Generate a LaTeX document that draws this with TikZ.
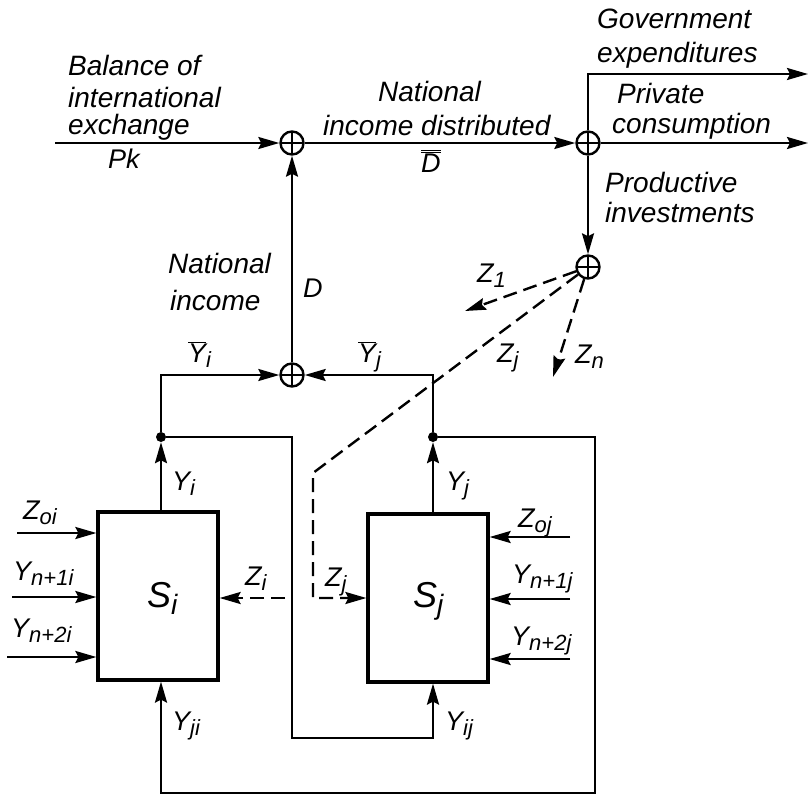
\documentclass[tikz,border=0pt]{standalone}
\usepackage{fontspec}
\setmainfont{Liberation Sans}
\usetikzlibrary{arrows.meta,calc}
\newcommand\lsub[1]{\raisebox{-0.4ex}{\fontsize{22}{22}\selectfont #1}}
\newcommand\bsub[1]{\raisebox{-0.4ex}{\fontsize{28}{28}\selectfont #1}}
\newcommand\ovl[1]{\ensuremath{\overline{\mbox{#1}}}}
\newcommand\dovl[1]{\ensuremath{\overline{\overline{\mbox{#1}}}}}
\tikzset{
  ln/.style={line width=2.4pt},
  arr/.style={ln,-{Stealth[length=21pt,width=12pt,inset=3pt]}},
  darr/.style={arr,dash pattern=on 14pt off 7pt},
  sumnode/.style={circle,draw,line width=2.4pt,minimum size=23pt,inner sep=0pt,
    path picture={\draw[line width=2pt] (path picture bounding box.north) -- (path picture bounding box.south)
      (path picture bounding box.west) -- (path picture bounding box.east);}},
  blk/.style={draw,line width=3.2pt,minimum width=120pt,minimum height=168pt,inner sep=0pt},
  dotnode/.style={circle,fill,inner sep=0pt,minimum size=10pt},
  txt/.style={anchor=base west,inner sep=0pt,font=\fontsize{28}{30}\selectfont\itshape},
  var/.style={anchor=base west,inner sep=0pt,font=\fontsize{27}{29}\selectfont\itshape},
  big/.style={anchor=base west,inner sep=0pt,font=\fontsize{36}{38}\selectfont\itshape},
}
\begin{document}
\begin{tikzpicture}[x=1pt,y=-1pt]
\useasboundingbox (0,0) rectangle (810,795);
% summing nodes
\node[sumnode] (c1) at (292,143) {};
\node[sumnode] (c2) at (588,143) {};
\node[sumnode] (c3) at (588,267) {};
\node[sumnode] (c4) at (292,375) {};
% blocks
\node[blk] (Si) at (158,596) {};
\node[blk] (Sj) at (428,598) {};
\node[dotnode] (di) at (161,437) {};
\node[dotnode] (dj) at (433,437) {};
% coordinates
\coordinate (pk) at (55,143);
\coordinate (ge) at (808,74);
\coordinate (pc) at (808,143);
\coordinate (z1) at (465,311);
\coordinate (zn) at (553,377);
\coordinate (zjb) at (313,473);
\coordinate (zjc) at (313,598);
\coordinate (zis) at (285,598);
\coordinate (l1) at (292,437);
\coordinate (l2) at (292,738);
\coordinate (r1) at (595,437);
\coordinate (r2) at (595,793);
\coordinate (zoi) at (17,533);
\coordinate (yn1i) at (12,597);
\coordinate (yn2i) at (7,657);
\coordinate (zoj) at (570,537);
\coordinate (yn1j) at (570,599);
\coordinate (yn2j) at (570,659);
% top connectors
\draw[arr] (pk) -- (c1);
\draw[arr] (c1) -- (c2);
\draw[arr] (c2.north) |- (ge);
\draw[arr] (c2) -- (pc);
\draw[arr] (c2) -- (c3);
\draw[arr] (c4) -- (c1);
\draw[darr] (c3) -- (z1);
\draw[darr] (c3) -- (zn);
\draw[darr] (c3) -- (zjb) -- (zjc) -- (Sj.west |- zjc);
% outputs
\draw[arr] (di |- Si.north) -- (di);
\draw[arr] (dj |- Sj.north) -- (dj);
\draw[arr] (di) |- (c4);
\draw[arr] (dj) |- (c4);
\draw[arr] (di) -- (l1) -- (l2) -- (dj |- l2) -- (dj |- Sj.south);
\draw[arr] (dj) -- (r1) -- (r2) -- (di |- r2) -- (di |- Si.south);
% inputs
\draw[arr] (zoi) -- (Si.west |- zoi);
\draw[arr] (yn1i) -- (Si.west |- yn1i);
\draw[arr] (yn2i) -- (Si.west |- yn2i);
\draw[arr] (zoj) -- (Sj.east |- zoj);
\draw[arr] (yn1j) -- (Sj.east |- yn1j);
\draw[arr] (yn2j) -- (Sj.east |- yn2j);
\draw[darr] (zis) -- (Si.east |- zis);
% text labels
\node[txt] (t1) at (68,75) {Balance of};
\node[txt] (t2) at (68,107) {international};
\node[txt] (t3) at (68,134) {exchange};
\node[var] (tpk) at (108,168) {Pk};
\node[txt] (t4) at (378,101) {National};
\node[txt] (t5) at (323,135) {income distributed};
\node[var] (tdd) at (421,172) {\dovl{D}};
\node[txt] (t6) at (597,28) {Government};
\node[txt] (t7) at (597,62) {expenditures};
\node[txt] (t8) at (617,103) {Private};
\node[txt] (t9) at (612,133) {consumption};
\node[txt] (t10) at (605,192) {Productive};
\node[txt] (t11) at (605,222) {investments};
\node[txt] (t12) at (168,273) {National};
\node[txt] (t13) at (170,310) {income};
\node[var] (tD) at (303,297) {D};
\node[var] (tz1) at (477,282) {Z\lsub{1}};
\node[var] (tzj) at (497,362) {Z\lsub{j}};
\node[var] (tzn) at (575,363) {Z\lsub{n}};
\node[var] (tyi) at (188,362) {\ovl{Y}\lsub{i}};
\node[var] (tyj) at (358,362) {\ovl{Y}\lsub{j}};
\node[var] (tyi2) at (172,490) {Y\lsub{i}};
\node[var] (tyj2) at (446,490) {Y\lsub{j}};
\node[var] (tzoi) at (23,519) {Z\lsub{oi}};
\node[var] (tyn1i) at (13,580) {Y\lsub{n+1i}};
\node[var] (tyn2i) at (11,637) {Y\lsub{n+2i}};
\node[var] (tzi) at (245,585) {Z\lsub{i}};
\node[var] (tzj2) at (325,586) {Z\lsub{j}};
\node[big] (tsi) at (147,607) {S\bsub{i}};
\node[big] (tsj) at (413,607) {S\bsub{j}};
\node[var] (tzoj) at (518,527) {Z\lsub{oj}};
\node[var] (tyn1j) at (512,583) {Y\lsub{n+1j}};
\node[var] (tyn2j) at (511,645) {Y\lsub{n+2j}};
\node[var] (tyji) at (172,730) {Y\lsub{ji}};
\node[var] (tyij) at (445,730) {Y\lsub{ij}};
\end{tikzpicture}
\end{document}
